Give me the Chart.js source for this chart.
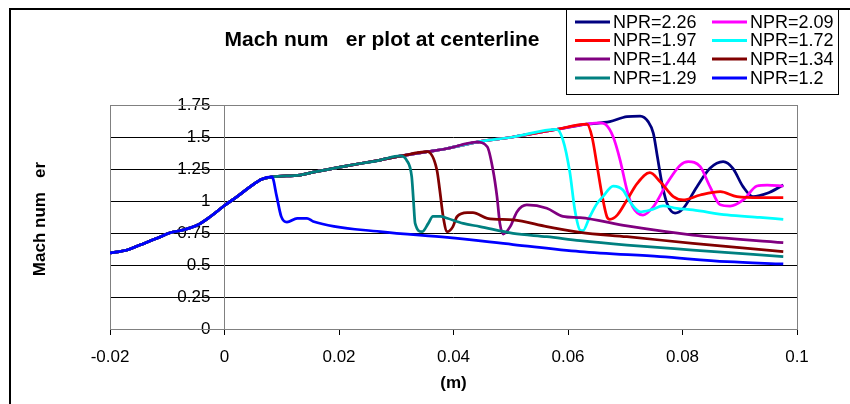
<!DOCTYPE html>
<html>
<head>
<meta charset="utf-8">
<script src="https://cdn.jsdelivr.net/npm/chart.js@4"></script>
<style>
  body { margin: 0; background: #fff; }
  #wrap { position: relative; width: 850px; height: 404px; }
</style>
</head>
<body>
<div id="wrap"><canvas id="machChart" width="850" height="404"></canvas></div>
<script>
// series names and colours, in legend order
var nprLabels = ["NPR=2.26", "NPR=2.09", "NPR=1.97", "NPR=1.72", "NPR=1.44", "NPR=1.34", "NPR=1.29", "NPR=1.2"];
var nprColors = ["#000080", "#FF00FF", "#FF0000", "#00FFFF", "#800080", "#800000", "#008080", "#0000FF"];

// part of the curve shared by all runs (before each shock)
var commonX = [-0.02, -0.017, -0.0148, -0.0118, -0.0095, -0.0073, -0.0048, -0.0025, 0, 0.0022, 0.0045, 0.0065, 0.0083, 0.0132, 0.0155, 0.0214, 0.0272, 0.0307, 0.0354, 0.0389, 0.0441, 0.0504, 0.058, 0.0633];
var commonM = [0.594, 0.617, 0.656, 0.709, 0.752, 0.773, 0.81, 0.877, 0.965, 1.034, 1.112, 1.17, 1.188, 1.203, 1.225, 1.275, 1.32, 1.35, 1.385, 1.41, 1.46, 1.5, 1.56, 1.6];

// each run after it leaves the common curve
var x226 = [0.0633, 0.0673, 0.0703, 0.0726, 0.074, 0.0749, 0.0756, 0.0764, 0.0773, 0.0787, 0.0801, 0.0825, 0.0848, 0.0871, 0.0888, 0.0906, 0.0923, 0.0948, 0.0976];
var m226 = [1.6, 1.62, 1.66, 1.664, 1.62, 1.53, 1.35, 1.14, 0.98, 0.905, 0.94, 1.11, 1.255, 1.307, 1.255, 1.11, 1.035, 1.06, 1.125];

var x209 = [0.0633, 0.0656, 0.0665, 0.0679, 0.0691, 0.0703, 0.0713, 0.0731, 0.0749, 0.0773, 0.0796, 0.081, 0.0831, 0.0848, 0.0866, 0.0883, 0.0906, 0.093, 0.0948, 0.0976];
var m209 = [1.6, 1.61, 1.6, 1.5, 1.32, 1.086, 0.955, 0.89, 0.955, 1.138, 1.28, 1.307, 1.268, 1.112, 0.97, 0.96, 1.008, 1.117, 1.125, 1.117];

var x197 = [0.0633, 0.0642, 0.0651, 0.066, 0.0668, 0.0673, 0.0686, 0.0703, 0.0721, 0.0743, 0.0761, 0.0784, 0.0801, 0.0831, 0.0866, 0.0895, 0.0935, 0.0976];
var m197 = [1.6, 1.5, 1.27, 1.034, 0.877, 0.857, 0.89, 1.008, 1.138, 1.221, 1.151, 1.034, 1.008, 1.047, 1.073, 1.034, 1.026, 1.026];

var x172 = [0.058, 0.0591, 0.0603, 0.0612, 0.0621, 0.0626, 0.0638, 0.0651, 0.0661, 0.0679, 0.0696, 0.0708, 0.0726, 0.0744, 0.0766, 0.079, 0.0818, 0.0878, 0.0935, 0.0976];
var m172 = [1.56, 1.48, 1.23, 0.93, 0.773, 0.768, 0.877, 0.982, 1.034, 1.117, 1.086, 0.995, 0.916, 0.93, 0.961, 0.943, 0.93, 0.891, 0.872, 0.857];

var x144 = [0.0441, 0.0459, 0.0469, 0.0476, 0.0481, 0.0487, 0.0499, 0.0511, 0.0528, 0.0563, 0.0591, 0.0621, 0.0703, 0.0818, 0.0976];
var m144 = [1.46, 1.424, 1.242, 1.034, 0.825, 0.742, 0.8, 0.916, 0.969, 0.943, 0.88, 0.87, 0.805, 0.734, 0.674];

var x134 = [0.0354, 0.0371, 0.0376, 0.0382, 0.0389, 0.0399, 0.0406, 0.0424, 0.0434, 0.0459, 0.0504, 0.0563, 0.0621, 0.0703, 0.0818, 0.0976];
var m134 = [1.385, 1.242, 1.086, 0.877, 0.76, 0.8, 0.877, 0.909, 0.909, 0.865, 0.852, 0.8, 0.755, 0.721, 0.669, 0.604];

var x129 = [0.0307, 0.0318, 0.0327, 0.033, 0.0333, 0.0345, 0.0356, 0.0364, 0.0377, 0.0389, 0.0417, 0.0446, 0.0504, 0.0563, 0.0621, 0.0703, 0.0818, 0.0976];
var m129 = [1.352, 1.32, 1.19, 1.008, 0.825, 0.76, 0.825, 0.88, 0.88, 0.865, 0.825, 0.8, 0.747, 0.721, 0.69, 0.656, 0.617, 0.565];

var x120 = [0.0083, 0.0091, 0.0099, 0.0109, 0.0127, 0.0144, 0.0155, 0.0272, 0.0389, 0.0504, 0.0621, 0.0761, 0.0878, 0.0976];
var m120 = [1.188, 1.04, 0.88, 0.835, 0.865, 0.865, 0.84, 0.76, 0.715, 0.66, 0.605, 0.565, 0.526, 0.508];

var xTicks = [-0.02, 0, 0.02, 0.04, 0.06, 0.08, 0.1];
var yTicks = [0, 0.25, 0.5, 0.75, 1, 1.25, 1.5, 1.75];

var tailsX = [x226, x209, x197, x172, x144, x134, x129, x120];
var tailsM = [m226, m209, m197, m172, m144, m134, m129, m120];

function buildPoints(tx, tm) {
    var pts = [];
    for (let i = 0; i < commonX.length; i++) {
        if (commonX[i] < tx[0]) pts.push({x: commonX[i], y: commonM[i]});
    }
    for (let i = 0; i < tx.length; i++) {
        pts.push({x: tx[i], y: tm[i]});
    }
    return pts;
}

var datasets = [];
for (let i = 0; i < nprLabels.length; i++) {
    datasets.push({
        label: nprLabels[i],
        data: buildPoints(tailsX[i], tailsM[i]),
        borderColor: nprColors[i],
        backgroundColor: nprColors[i],
        borderWidth: 2.75,
        pointRadius: 0,
        fill: false,
        cubicInterpolationMode: 'monotone',
        order: nprLabels.length - 1 - i   // later runs on top, like the original
    });
}

function fmt(v) {
    return String(Number(v.toFixed(2)));
}

var FONT = '"Liberation Sans", Arial, sans-serif';

// white page, outer frame, plot border, titles and the two-column legend
var decor = {
    id: 'decor',
    beforeDraw(chart) {
        var c = chart.ctx;
        c.save();
        c.fillStyle = '#fff';
        c.fillRect(0, 0, chart.width, chart.height);
        c.restore();
    },
    beforeDatasetsDraw(chart) {
        var a = chart.chartArea, c = chart.ctx;
        c.save();
        c.strokeStyle = '#808080';
        c.lineWidth = 1;
        c.strokeRect(Math.round(a.left) + 0.5, Math.round(a.top) + 0.5, Math.round(a.right - a.left), Math.round(a.bottom - a.top));
        c.restore();
    },
    afterDraw(chart) {
        var c = chart.ctx;
        c.save();
        // outer chart frame
        c.strokeStyle = '#000';
        c.lineWidth = 2;
        c.beginPath();
        c.moveTo(10, 404);
        c.lineTo(10, 9);
        c.lineTo(850, 9);
        c.stroke();

        // title
        c.fillStyle = '#000';
        c.font = 'bold 21px ' + FONT;
        c.textAlign = 'center';
        c.textBaseline = 'middle';
        c.fillText('Mach num   er plot at centerline', 382, 40);

        // y title
        c.save();
        c.translate(40, 219);
        c.rotate(-Math.PI / 2);
        c.font = 'bold 17px ' + FONT;
        c.fillText('Mach num   er', 0, 0);
        c.restore();

        // legend box
        c.fillStyle = '#fff';
        c.fillRect(566, 9, 272, 85);
        c.strokeStyle = '#000';
        c.lineWidth = 1;
        c.strokeRect(566.5, 9.5, 272, 85);
        c.font = '18px ' + FONT;
        c.textAlign = 'left';
        var colLine = [575, 712];
        var rowY = [22, 40.5, 59, 78];
        chart.data.datasets.forEach(function(ds, i) {
            var lx = colLine[i % 2], ly = rowY[Math.floor(i / 2)];
            c.strokeStyle = ds.borderColor;
            c.lineWidth = 3;
            c.beginPath();
            c.moveTo(lx, ly);
            c.lineTo(lx + 35, ly);
            c.stroke();
            c.fillStyle = '#000';
            c.fillText(ds.label, lx + 38, ly + 1);
        });
        c.restore();
    }
};

new Chart("machChart", {
    type: 'line',
    data: { datasets: datasets },
    options: {
        responsive: false,
        animation: false,
        layout: { padding: { left: 110, right: 53, top: 105, bottom: 0 } },
        plugins: {
            legend: { display: false },
            title: { display: false },
            tooltip: { enabled: false }
        },
        scales: {
            x: {
                type: 'linear',
                min: -0.02,
                max: 0.1,
                afterBuildTicks: function(s) { s.ticks = xTicks.map(v => ({value: v})); },
                ticks: {
                    color: '#000',
                    font: { family: FONT, size: 17 },
                    padding: 12,
                    maxRotation: 0,
                    autoSkip: false,
                    callback: v => fmt(v)
                },
                grid: { drawOnChartArea: false, tickLength: 6, color: '#000' },
                border: { color: '#000', width: 1 },
                title: {
                    display: true,
                    text: '(m)',
                    color: '#000',
                    font: { family: FONT, size: 17, weight: 'bold' },
                    padding: { top: 0, bottom: 10 }
                },
                afterFit: function(s) { s.height = 75; }
            },
            y: {
                type: 'linear',
                min: 0,
                max: 1.75,
                position: { x: 0 },
                afterBuildTicks: function(s) { s.ticks = yTicks.map(v => ({value: v})); },
                ticks: {
                    color: '#000',
                    font: { family: FONT, size: 17 },
                    // axis sits inside the plot, so keep the labels clear of the tick marks
                    callback: v => fmt(v) + '   '
                },
                grid: {
                    color: ctx => (ctx.tick && ctx.tick.value === 1.75) ? '#808080' : '#000',
                    tickLength: 7
                },
                border: { color: '#808080', width: 1 }
            }
        }
    },
    plugins: [decor]
});
</script>
</body>
</html>
